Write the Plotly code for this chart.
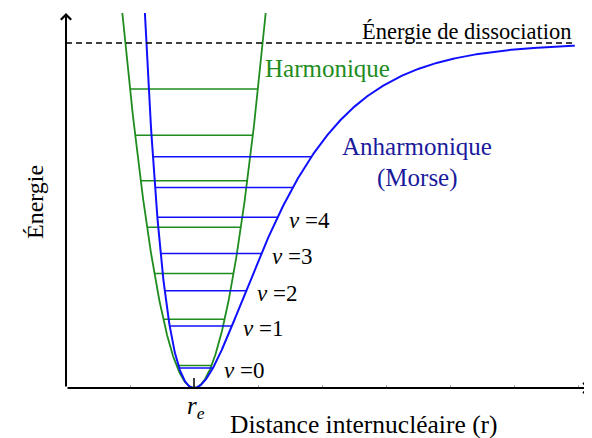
import numpy as np
import plotly.graph_objects as go

# ---------------- data ----------------
# distances in axis units (1 unit = one faint x tick), energies in units of D_e
D_e = 1.0                 # dissociation energy
r_e = 2.0                 # equilibrium distance
a_morse = 0.931           # Morse width parameter
r_max = 7.95              # right end of Morse curve / dashed line
E_top = 1.087             # top of drawn curves (axis arrow)
harmonic_levels = [0.065, 0.199, 0.332, 0.466, 0.601, 0.733, 0.867]
morse_levels = [0.058, 0.180, 0.282, 0.390, 0.495, 0.581, 0.670]
level_labels = ["0", "1", "2", "3", "4"]
x_ticks = [1, 2, 3, 4, 5, 6, 7, 8]

# ---------------- styles ----------------
GREEN = "#1e8c1e"
BLUE = "#1010ff"
NAVY = "#1a1a9c"
FONT = "Liberation Serif"

k_harm = 2 * D_e * a_morse ** 2


def morse(r):
    return D_e * (1 - np.exp(-a_morse * (r - r_e))) ** 2


def morse_left(E):
    return r_e - np.log(1 + np.sqrt(E / D_e)) / a_morse


def morse_right(E):
    return r_e - np.log(1 - np.sqrt(E / D_e)) / a_morse


def harm_half(E):
    return np.sqrt(2 * E / k_harm)


fig = go.Figure()

# harmonic curve
w = harm_half(E_top)
rh = np.linspace(r_e - w, r_e + w, 400)
fig.add_trace(go.Scatter(x=rh, y=0.5 * k_harm * (rh - r_e) ** 2, mode="lines",
                         line=dict(color=GREEN, width=1.8), hoverinfo="skip"))

# harmonic levels
hx, hy = [], []
for E in harmonic_levels:
    d = harm_half(E)
    hx += [r_e - d, r_e + d, None]
    hy += [E, E, None]
fig.add_trace(go.Scatter(x=hx, y=hy, mode="lines",
                         line=dict(color=GREEN, width=1.5), hoverinfo="skip"))

# Morse curve
rm = np.linspace(morse_left(E_top), r_max, 800)
fig.add_trace(go.Scatter(x=rm, y=morse(rm), mode="lines",
                         line=dict(color=BLUE, width=2), hoverinfo="skip"))

# Morse levels
mx, my = [], []
for E in morse_levels:
    mx += [morse_left(E), morse_right(E), None]
    my += [E, E, None]
fig.add_trace(go.Scatter(x=mx, y=my, mode="lines",
                         line=dict(color=BLUE, width=1.5), hoverinfo="skip"))

# dissociation dashed line
fig.add_trace(go.Scatter(x=[0, r_max], y=[D_e, D_e], mode="lines",
                         line=dict(color="black", width=1.5, dash="6px,4px"),
                         hoverinfo="skip"))

# v labels
for lab, E in zip(level_labels, morse_levels):
    fig.add_annotation(x=morse_right(E), y=E, xref="x", yref="y",
                       text="<i>v</i> =" + lab, showarrow=False,
                       xanchor="left", yanchor="middle", xshift=9, yshift=-3,
                       font=dict(family=FONT, size=23, color="black"))

# re tick
fig.add_shape(type="line", x0=r_e, x1=r_e, y0=0, y1=0.029, xref="x", yref="y",
              line=dict(color="black", width=1.5))

# axes arrows
x_end = 524 / 64
fig.add_annotation(x=0, y=E_top, ax=0, ay=0, xref="x", yref="y", axref="x", ayref="y",
                   text="", showarrow=True, arrowhead=4, arrowsize=1, arrowwidth=2,
                   arrowcolor="black")
fig.add_annotation(x=x_end, y=0, ax=0, ay=0, xref="x", yref="y", axref="x", ayref="y",
                   text="", showarrow=True, arrowhead=4, arrowsize=1, arrowwidth=2,
                   arrowcolor="black")


# positions below are given in window pixels (plot area: x 66..590, y 13..388)
def px(x):
    return (x - 66) / 524


def py(y):
    return (388 - y) / 375


def label(text, x, y, size, color="black", xanchor="center", angle=0):
    fig.add_annotation(x=px(x), y=py(y), xref="paper", yref="paper", text=text,
                       showarrow=False, xanchor=xanchor, yanchor="middle",
                       textangle=angle, font=dict(family=FONT, size=size, color=color))


label("Harmonique", 327, 69, 25, GREEN)
label("Anharmonique", 417, 146, 25, NAVY)
label("(Morse)", 417, 178, 25, NAVY)
label("Énergie de dissociation", 574, 31, 22.5, xanchor="right")
label("Énergie", 35, 202, 24, angle=-90)
label("Distance internucléaire (r)", 364, 424, 25.5)
label("<i>r</i><sub><i>e</i></sub>", 196, 408, 25)

# the page body has an 8px margin: figure is 8px smaller and margins shifted
fig.update_layout(
    width=584, height=430,
    margin=dict(l=58, r=2, t=5, b=50),
    paper_bgcolor="white", plot_bgcolor="white",
    showlegend=False,
    xaxis=dict(range=[0, x_end], showgrid=False, zeroline=False, showline=False,
               tickvals=x_ticks, ticks="inside", ticklen=3, tickwidth=1,
               tickcolor="#b0b0b0", showticklabels=False, fixedrange=True),
    yaxis=dict(range=[0, E_top], showgrid=False, zeroline=False, showline=False,
               showticklabels=False, ticks="", fixedrange=True),
)

fig.write_html("out.html")
